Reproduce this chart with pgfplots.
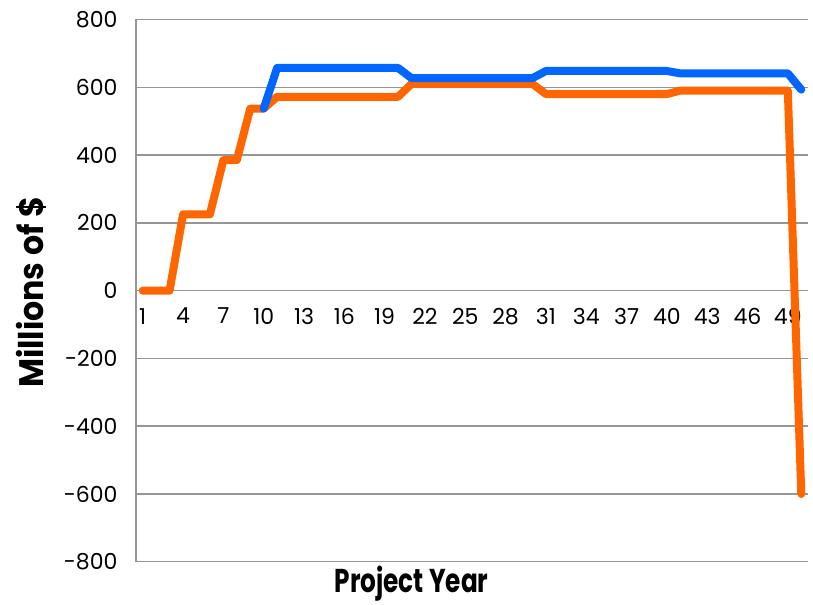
\documentclass[border=0pt]{standalone}
\usepackage{fontspec}
\setmainfont{Poppins}
\usepackage{graphicx}
\usepackage{pgfplots}
\pgfplotsset{compat=1.18}

\definecolor{npvblue}{RGB}{0,102,255}
\definecolor{npvorange}{RGB}{255,102,0}
\definecolor{gridgray}{RGB}{150,150,150}

% Cash flow by project year, millions of dollars
\pgfplotstableread{
year value
1 0
2 0
3 0
4 225
5 225
6 225
7 385
8 385
9 537
10 537
11 572
12 572
13 572
14 572
15 572
16 572
17 572
18 572
19 572
20 572
21 610
22 610
23 610
24 610
25 610
26 610
27 610
28 610
29 610
30 610
31 580
32 580
33 580
34 580
35 580
36 580
37 580
38 580
39 580
40 580
41 590
42 590
43 590
44 590
45 590
46 590
47 590
48 590
49 590
50 -600
}\orangeseries

\pgfplotstableread{
year value
10 537
11 657
12 657
13 657
14 657
15 657
16 657
17 657
18 657
19 657
20 657
21 627
22 627
23 627
24 627
25 627
26 627
27 627
28 627
29 627
30 627
31 648
32 648
33 648
34 648
35 648
36 648
37 648
38 648
39 648
40 648
41 641
42 641
43 641
44 641
45 641
46 641
47 641
48 641
49 641
50 593
}\blueseries

\begin{document}
\begin{tikzpicture}
\useasboundingbox (0,0) rectangle (813bp,605bp);
\begin{axis}[
  at={(136bp,43.3bp)}, anchor=south west,
  scale only axis, width=672bp, height=542.2bp,
  xmin=0.5, xmax=50.5, ymin=-800, ymax=800,
  axis x line*=middle, axis y line*=left,
  hide obscured y ticks=false,
  axis line style={gridgray, line width=1.5bp, -},
  xtick={1,4,...,49}, ytick={-800,-600,...,800},
  yticklabels={-800,-600,-400,-200,0,200,400,600,800},
  major tick length=0pt,
  ymajorgrids, grid style={gridgray, line width=1.5bp},
  /pgf/number format/assume math mode=true,
  tick label style={font=\fontsize{22bp}{22bp}\selectfont},
  xticklabel style={yshift=-14bp},
  yticklabel style={xshift=-15bp},
  xlabel={\scalebox{0.75}[1]{Project Year}},
  ylabel={\scalebox{0.93}[1]{Millions of \$}},
  every axis x label/.style={at={(axis description cs:0.41,-0.0559)}, anchor=base,
    inner sep=0pt, font=\fontsize{33bp}{33bp}\selectfont\bfseries},
  every axis y label/.style={at={(axis description cs:-0.137,0.497)}, anchor=base, rotate=90,
    inner sep=0pt, font=\fontsize{34bp}{34bp}\selectfont\bfseries},
  clip=false,
]
\addplot[npvorange, line width=8bp, line cap=round, line join=round] table[x=year, y=value] {\orangeseries};
\addplot[npvblue, line width=8bp, line cap=round, line join=round] table[x=year, y=value] {\blueseries};
\end{axis}
\end{tikzpicture}
\end{document}
